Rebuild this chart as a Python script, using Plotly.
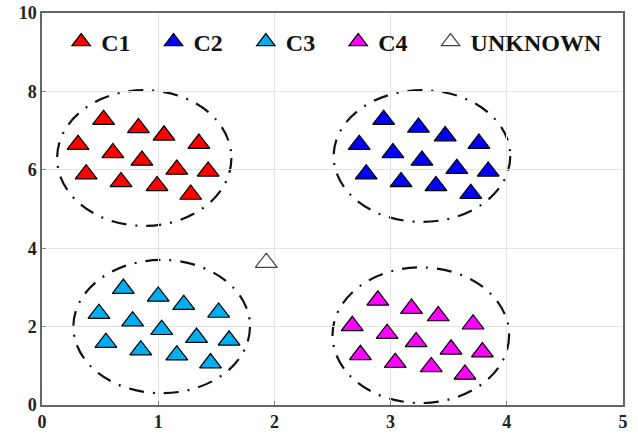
import plotly.graph_objects as go

# Cluster samples (x, y)
c1_x = [0.53, 0.83, 1.05, 1.35, 0.31, 0.61, 0.86, 1.16, 1.43, 0.38, 0.68, 0.99, 1.28]
c1_y = [7.28, 7.07, 6.88, 6.67, 6.64, 6.43, 6.24, 6.01, 5.96, 5.89, 5.69, 5.59, 5.37]

c2_x = [2.94, 3.24, 3.47, 3.76, 2.73, 3.02, 3.27, 3.57, 3.84, 2.79, 3.09, 3.39, 3.69]
c2_y = [7.28, 7.08, 6.86, 6.67, 6.64, 6.43, 6.24, 6.03, 5.96, 5.89, 5.69, 5.59, 5.39]

c3_x = [0.70, 1.00, 1.22, 1.52, 0.49, 0.78, 1.03, 1.33, 1.61, 0.55, 0.85, 1.16, 1.45]
c3_y = [2.97, 2.77, 2.56, 2.36, 2.33, 2.14, 1.92, 1.72, 1.65, 1.59, 1.40, 1.27, 1.07]

c4_x = [2.89, 3.18, 3.41, 3.71, 2.67, 2.97, 3.22, 3.52, 3.79, 2.74, 3.04, 3.35, 3.64]
c4_y = [2.67, 2.46, 2.27, 2.06, 2.02, 1.82, 1.61, 1.42, 1.35, 1.28, 1.08, 0.97, 0.78]

unknown_x = [1.93]
unknown_y = [3.63]

# Cluster boundary ellipses: centre and semi-axes
ell_cx = [0.88, 3.27, 1.03, 3.26]
ell_cy = [6.30, 6.35, 2.00, 1.78]
ell_rx = [0.75, 0.76, 0.76, 0.76]
ell_ry = [1.73, 1.68, 1.70, 1.73]

x_ticks = [0, 1, 2, 3, 4, 5]
y_ticks = [0, 2, 4, 6, 8, 10]

serif = "Liberation Serif"
pad = "\u00a0" * 3  # spacing between legend entries

fig = go.Figure()

groups = [
    ("C1", c1_x, c1_y, "#FF0000", "#000000"),
    ("C2", c2_x, c2_y, "#0000FF", "#000000"),
    ("C3", c3_x, c3_y, "#00AEEF", "#000000"),
    ("C4", c4_x, c4_y, "#FF00FF", "#000000"),
    ("UNKNOWN", unknown_x, unknown_y, "#FFFFFF", "#444444"),
]

for name, xs, ys, fill, edge in groups:
    label = name if name == "UNKNOWN" else name + pad
    fig.add_trace(go.Scatter(
        x=xs, y=ys, mode="markers", name=label,
        marker=dict(symbol="triangle-up", size=19, color=fill,
                    line=dict(color=edge, width=1.2)),
    ))

for cx, cy, rx, ry in zip(ell_cx, ell_cy, ell_rx, ell_ry):
    fig.add_shape(type="circle", xref="x", yref="y",
                  x0=cx - rx, x1=cx + rx, y0=cy - ry, y1=cy + ry,
                  line=dict(color="#111111", width=2.2, dash="15px,9px,2px,9px"),
                  layer="below")

axis_common = dict(
    showgrid=True, gridcolor="#E3E3E3", gridwidth=1,
    showline=True, linecolor="#666666", linewidth=1.5, mirror=True,
    ticks="inside", ticklen=4, tickcolor="#888888",
    tickfont=dict(family=serif, size=18, color="#222222", weight="bold"),
    zeroline=False, automargin=False,
)

fig.update_xaxes(range=[0, 5], tickvals=x_ticks, **axis_common)
fig.update_yaxes(range=[0, 10], tickvals=y_ticks, **axis_common)

fig.update_layout(
    width=638, height=434,
    margin=dict(l=42, r=15, t=13, b=29, autoexpand=False),
    paper_bgcolor="white", plot_bgcolor="white",
    showlegend=True,
    legend=dict(
        orientation="h", x=0.033, y=0.926, xanchor="left", yanchor="middle",
        bgcolor="rgba(0,0,0,0)", borderwidth=0,
        font=dict(family=serif, size=24, color="#111111", weight="bold"),
        itemwidth=30,
    ),
)

fig.write_html("out.html")
